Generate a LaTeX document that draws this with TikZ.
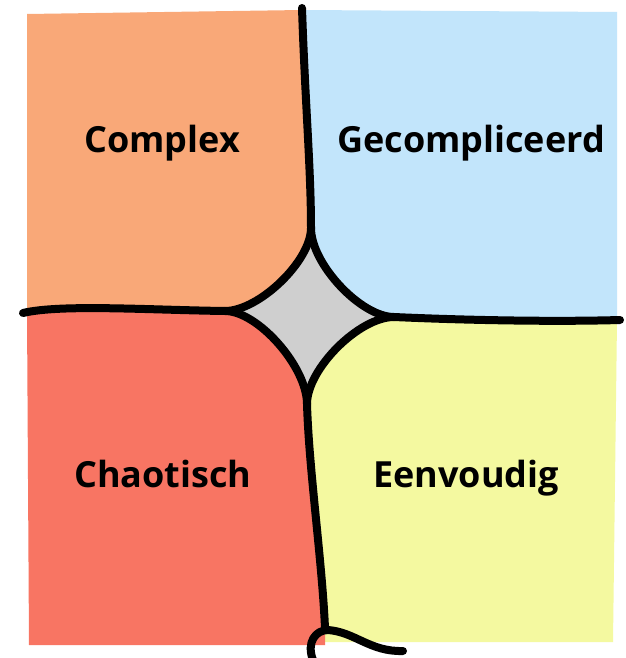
\documentclass[tikz,border=0pt]{standalone}
\usepackage{fontspec}
\setmainfont{Open Sans}
\definecolor{cplx}{HTML}{F9A878}
\definecolor{gecomp}{HTML}{C2E5FB}
\definecolor{chaos}{HTML}{F87563}
\definecolor{eenv}{HTML}{F4F9A0}
\definecolor{starg}{HTML}{CFCFCF}
\begin{document}
\begin{tikzpicture}[x=1pt,y=-1pt,
  border/.style={line width=8pt,line cap=round,line join=round,black},
  label/.style={font=\bfseries\fontsize{36}{40}\selectfont,text=black,anchor=base,inner sep=0pt}]
\useasboundingbox[fill=white] (0,0) rectangle (625,658);
% star corner points
\coordinate (T) at (311,228);
\coordinate (L) at (225,311);
\coordinate (R) at (394,317);
\coordinate (B) at (307,404);
% quadrant fills
\fill[cplx] (27,14) -- (302,10) .. controls (305,100) and (311,170) .. (T)
  .. controls (311,261) and (259,311) .. (L)
  .. controls (150,310) and (60,304) .. (27,313) -- cycle;
\fill[gecomp] (302,10) -- (617,12) -- (617,319) -- (R)
  .. controls (361,317) and (311,264) .. (T)
  .. controls (311,170) and (305,100) .. (302,10) -- cycle;
\fill[eenv] (R) .. controls (460,320) and (550,322) .. (617,320)
  -- (613,642) -- (325,642) -- (325,628)
  .. controls (322,560) and (309,470) .. (B)
  .. controls (307,369) and (359,317) .. (R) -- cycle;
\fill[chaos] (27,313) .. controls (60,304) and (150,310) .. (L)
  .. controls (258,311) and (307,367) .. (B)
  .. controls (309,470) and (322,560) .. (325,628)
  -- (325,645) -- (29,645) -- cycle;
% central star
\fill[starg] (T) .. controls (311,264) and (361,317) .. (R)
  .. controls (359,317) and (307,369) .. (B)
  .. controls (307,367) and (258,311) .. (L)
  .. controls (259,311) and (311,261) .. (T) -- cycle;
% border lines
\draw[border] (302,8) .. controls (305,100) and (311,170) .. (T);
\draw[border] (T) .. controls (311,264) and (361,317) .. (R);
\draw[border] (R) .. controls (359,317) and (307,369) .. (B);
\draw[border] (B) .. controls (307,367) and (258,311) .. (L);
\draw[border] (L) .. controls (259,311) and (311,261) .. (T);
\draw[border] (23,313) .. controls (60,304) and (150,310) .. (L);
\draw[border] (R) .. controls (460,320) and (550,322) .. (620,320);
\draw[border] (B) .. controls (309,470) and (322,560) .. (325,628);
\draw[border] (313,660) .. controls (306,642) and (316,630) .. (328,630)
  .. controls (355,632) and (370,652) .. (403,651);
% labels
\node[label] (complex) at (162,152) {Complex};
\node[label] (gecompliceerd) at (471,152) {Gecompliceerd};
\node[label] (chaotisch) at (163,487) {Chaotisch};
\node[label] (eenvoudig) at (466,487) {Eenvoudig};
\end{tikzpicture}
\end{document}
